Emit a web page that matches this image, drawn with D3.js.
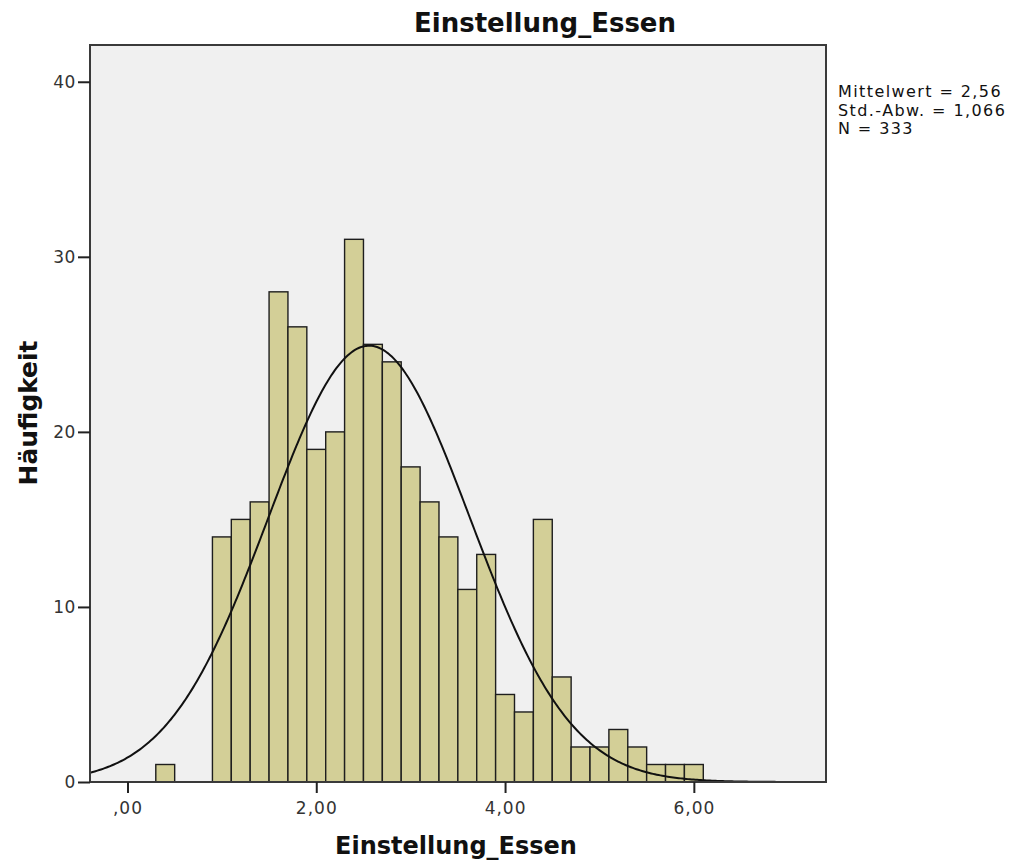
<!DOCTYPE html>
<html>
<head>
<meta charset="utf-8">
<script src="https://cdn.jsdelivr.net/npm/d3@7"></script>
<style>
  html, body { margin: 0; padding: 0; background: #ffffff; }
  svg { display: block; font-family: "DejaVu Sans", Verdana, sans-serif; }
</style>
</head>
<body>
<svg id="chart" width="1017" height="863"></svg>
<script>
// Histogram of Einstellung_Essen (bin width 0,2) with fitted normal curve
const chartTitle = "Einstellung_Essen";
const xLabel = "Einstellung_Essen";
const yLabel = "Häufigkeit";

const binLower = [0.3, 0.9, 1.1, 1.3, 1.5, 1.7, 1.9, 2.1, 2.3, 2.5, 2.7, 2.9, 3.1, 3.3,
                  3.5, 3.7, 3.9, 4.1, 4.3, 4.5, 4.7, 4.9, 5.1, 5.3, 5.5, 5.7, 5.9];
const binCounts = [1, 14, 15, 16, 28, 26, 19, 20, 31, 25, 24, 18, 16, 14,
                   11, 13, 5, 4, 15, 6, 2, 2, 3, 2, 1, 1, 1];
const binWidth = 0.2;

const xTicks = [0, 2, 4, 6];
const xTickLabels = [",00", "2,00", "4,00", "6,00"];
const yTicks = [0, 10, 20, 30, 40];

const statMean = 2.56;
const statSd = 1.066;
const statN = 333;
const statLines = ["Mittelwert = 2,56", "Std.-Abw. = 1,066", "N = 333"];

const svg = d3.select("#chart");
const plot = { left: 90, right: 826, top: 45, bottom: 782 };

const x = d3.scaleLinear().domain([-0.397, 7.4]).range([plot.left, plot.right]);
const y = d3.scaleLinear().domain([0, 42.1]).range([plot.bottom, plot.top]);

// plot background
svg.append("rect")
  .attr("x", plot.left).attr("y", plot.top)
  .attr("width", plot.right - plot.left).attr("height", plot.bottom - plot.top)
  .attr("fill", "#f0f0f0");

// bars
const bins = binLower.map((lo, i) => ({ lo, hi: lo + binWidth, n: binCounts[i] }));
svg.append("g").selectAll("rect").data(bins).join("rect")
  .attr("x", d => x(d.lo))
  .attr("y", d => y(d.n))
  .attr("width", d => x(d.hi) - x(d.lo))
  .attr("height", d => y(0) - y(d.n))
  .attr("fill", "#d3cf97")
  .attr("stroke", "#1e1e1e")
  .attr("stroke-width", 1.4);

// normal curve scaled to counts
const scaleFactor = statN * binWidth;
const pdf = v => Math.exp(-0.5 * ((v - statMean) / statSd) ** 2) / (statSd * Math.sqrt(2 * Math.PI));
const [x0, x1] = x.domain();
const curvePts = d3.range(0, 401).map(i => {
  const v = x0 + (x1 - x0) * i / 400;
  return [v, scaleFactor * pdf(v)];
});
svg.append("path")
  .datum(curvePts)
  .attr("fill", "none")
  .attr("stroke", "#111")
  .attr("stroke-width", 2)
  .attr("d", d3.line().x(d => x(d[0])).y(d => y(d[1])));

// frame
svg.append("rect")
  .attr("x", plot.left).attr("y", plot.top)
  .attr("width", plot.right - plot.left).attr("height", plot.bottom - plot.top)
  .attr("fill", "none")
  .attr("stroke", "#3a3a3a")
  .attr("stroke-width", 2);

// y axis
const yAxis = d3.axisLeft(y).tickValues(yTicks).tickSize(12).tickPadding(2).tickFormat(d3.format("d"));
const gy = svg.append("g").attr("transform", `translate(${plot.left},0)`).call(yAxis);
gy.select(".domain").remove();
gy.selectAll(".tick line").attr("stroke", "#222").attr("stroke-width", 2);
gy.selectAll(".tick text").attr("font-size", 17).attr("fill", "#333")
  .attr("font-family", "DejaVu Sans, sans-serif").attr("letter-spacing", "0.6px");

// x axis
const xAxis = d3.axisBottom(x).tickValues(xTicks).tickSize(11).tickPadding(9)
  .tickFormat((d, i) => xTickLabels[i]);
const gx = svg.append("g").attr("transform", `translate(0,${plot.bottom})`).call(xAxis);
gx.select(".domain").remove();
gx.selectAll(".tick line").attr("stroke", "#222").attr("stroke-width", 2);
gx.selectAll(".tick text").attr("font-size", 17).attr("fill", "#333")
  .attr("font-family", "DejaVu Sans, sans-serif").attr("letter-spacing", "1px");

// fit a text element to a target width by adjusting its font size
function fitWidth(sel, target) {
  const fs = +sel.attr("font-size");
  const w = sel.node().getComputedTextLength();
  sel.attr("font-size", (fs * target / w).toFixed(2));
}

// title
const t = svg.append("text")
  .attr("x", 545).attr("y", 32)
  .attr("text-anchor", "middle")
  .attr("font-weight", "bold").attr("font-size", 22).attr("fill", "#111")
  .text(chartTitle);
fitWidth(t, 262);

// x label
const xl = svg.append("text")
  .attr("x", 456).attr("y", 854)
  .attr("text-anchor", "middle")
  .attr("font-weight", "bold").attr("font-size", 20).attr("fill", "#111")
  .text(xLabel);
fitWidth(xl, 242);

// y label
const yl = svg.append("text")
  .attr("transform", "translate(37,413) rotate(-90)")
  .attr("text-anchor", "middle")
  .attr("font-weight", "bold").attr("font-size", 20).attr("fill", "#111")
  .text(yLabel);
fitWidth(yl, 145);

// statistics text, widened with letter spacing
const st = svg.append("g").attr("font-size", 16).attr("fill", "#111");
st.selectAll("text").data(statLines).join("text")
  .attr("x", 838)
  .attr("y", (d, i) => 97 + i * 18.7)
  .text(d => d);
const first = st.select("text");
const w0 = first.node().getComputedTextLength();
const chars = statLines[0].length;
st.attr("letter-spacing", Math.max(0, (164 - w0) / chars).toFixed(2) + "px");
</script>
</body>
</html>
